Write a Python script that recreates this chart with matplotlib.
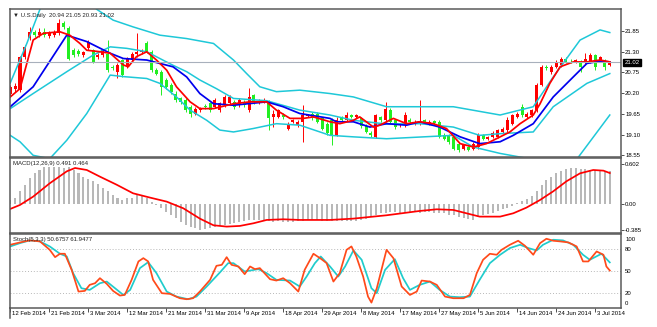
import matplotlib.pyplot as plt
from matplotlib.lines import Line2D
import numpy as np

plt.rcParams["font.family"] = ["Liberation Sans", "DejaVu Sans"]

# ---- data (bar index = trading day) ----
date_labels = ["12 Feb 2014", "21 Feb 2014", "3 Mar 2014", "12 Mar 2014", "21 Mar 2014",
               "31 Mar 2014", "9 Apr 2014", "18 Apr 2014", "29 Apr 2014", "8 May 2014",
               "17 May 2014", "27 May 2014", "5 Jun 2014", "14 Jun 2014", "24 Jun 2014",
               "3 Jul 2014"]
date_bars = [0, 8, 16, 24, 32, 40, 48, 56, 64, 72, 80, 88, 96, 104, 112, 120]

# open, high, low, close
ohlc = [
    (20.17, 20.42, 20.10, 20.36), (20.30, 20.48, 20.22, 20.40), (20.28, 21.20, 20.22, 21.16),
    (21.16, 21.48, 21.10, 21.42), (21.66, 21.96, 21.60, 21.82), (21.83, 21.88, 21.68, 21.74),
    (21.74, 21.92, 21.70, 21.83), (21.83, 21.92, 21.70, 21.74), (21.72, 21.85, 21.66, 21.80),
    (21.75, 21.88, 21.70, 21.82), (21.79, 22.16, 21.75, 22.07), (22.05, 22.12, 21.90, 21.95),
    (21.92, 21.98, 21.08, 21.12), (21.34, 21.40, 21.17, 21.21), (21.32, 21.38, 21.20, 21.25),
    (21.22, 21.32, 21.16, 21.28), (21.39, 21.60, 21.34, 21.56), (21.34, 21.38, 20.99, 21.03),
    (21.17, 21.26, 21.10, 21.21), (21.21, 21.38, 21.17, 21.34), (21.25, 21.61, 20.77, 20.81),
    (20.90, 20.95, 20.82, 20.86), (20.77, 21.00, 20.59, 20.95), (21.08, 21.12, 20.64, 20.68),
    (20.90, 21.16, 20.86, 21.12), (21.08, 21.30, 21.03, 21.25), (21.25, 21.79, 21.17, 21.30),
    (21.28, 21.36, 21.24, 21.31), (21.52, 21.58, 21.26, 21.30), (21.30, 21.34, 20.77, 20.81),
    (20.81, 20.88, 20.68, 20.72), (20.77, 20.82, 20.15, 20.37), (20.55, 20.60, 20.30, 20.37),
    (20.41, 20.46, 20.19, 20.24), (20.19, 20.25, 19.97, 20.01), (20.06, 20.10, 19.92, 19.97),
    (20.01, 20.06, 19.70, 19.75), (19.84, 19.88, 19.57, 19.66), (19.66, 19.84, 19.62, 19.79),
    (19.75, 19.84, 19.70, 19.79), (19.86, 19.92, 19.78, 19.82), (19.93, 19.97, 19.70, 19.75),
    (19.84, 20.06, 19.80, 20.01), (19.75, 19.97, 19.70, 19.93), (19.88, 20.15, 19.84, 20.10),
    (19.93, 20.15, 19.88, 20.10), (19.97, 20.01, 19.79, 19.84), (19.88, 20.06, 19.84, 20.01),
    (19.97, 20.01, 19.84, 19.88), (19.75, 20.35, 19.70, 20.10), (20.15, 20.19, 19.92, 19.97),
    (19.95, 20.04, 19.92, 20.00), (19.97, 20.06, 19.93, 20.01), (19.97, 20.01, 19.21, 19.53),
    (19.57, 19.75, 19.31, 19.66), (19.57, 19.79, 19.53, 19.75), (19.62, 19.68, 19.52, 19.57),
    (19.26, 19.44, 19.22, 19.39), (19.44, 19.52, 19.40, 19.48), (19.35, 19.48, 19.30, 19.44),
    (19.44, 19.88, 18.91, 19.62), (19.60, 19.66, 19.56, 19.62), (19.66, 19.70, 19.49, 19.53),
    (19.66, 19.70, 19.40, 19.44), (19.53, 19.57, 19.22, 19.26), (19.39, 19.44, 19.10, 19.13),
    (19.48, 19.53, 18.82, 19.10), (19.10, 19.57, 19.06, 19.50), (19.55, 19.60, 19.44, 19.48),
    (19.50, 19.70, 19.46, 19.62), (19.62, 19.66, 19.53, 19.57), (19.57, 19.66, 19.53, 19.62),
    (19.53, 19.57, 19.28, 19.33), (19.33, 19.37, 19.13, 19.17), (19.15, 19.20, 19.04, 19.08),
    (19.04, 19.66, 19.00, 19.62), (19.57, 19.60, 19.44, 19.48), (19.48, 19.97, 19.44, 19.79),
    (19.75, 19.80, 19.40, 19.44), (19.48, 19.52, 19.26, 19.30), (19.35, 19.42, 19.30, 19.39),
    (19.35, 19.70, 19.30, 19.62), (19.48, 19.53, 19.40, 19.44), (19.39, 19.48, 19.35, 19.44),
    (19.39, 20.01, 19.35, 19.46), (19.48, 19.52, 19.40, 19.44), (19.39, 19.48, 19.35, 19.44),
    (19.46, 19.50, 19.37, 19.40), (19.44, 19.48, 19.00, 19.04), (19.08, 19.15, 18.95, 18.99),
    (19.08, 19.12, 18.86, 18.91), (19.04, 19.08, 18.68, 18.73), (18.86, 18.90, 18.64, 18.68),
    (18.73, 18.86, 18.70, 18.82), (18.77, 18.80, 18.66, 18.70), (18.73, 18.90, 18.70, 18.86),
    (18.77, 19.13, 18.72, 19.08), (19.08, 19.12, 18.95, 18.99), (18.99, 19.06, 18.96, 19.04),
    (19.04, 19.20, 19.00, 19.13), (19.04, 19.26, 19.00, 19.22), (19.17, 19.30, 19.14, 19.26),
    (19.22, 19.57, 19.18, 19.48), (19.39, 19.66, 19.35, 19.62), (19.57, 19.70, 19.53, 19.66),
    (19.84, 19.90, 19.58, 19.62), (19.57, 19.70, 19.53, 19.66), (19.62, 19.79, 19.58, 19.75),
    (19.75, 20.46, 19.70, 20.41), (20.41, 20.95, 20.38, 20.90), (20.90, 20.95, 20.82, 20.86),
    (20.77, 20.94, 20.72, 20.90), (20.90, 21.08, 20.86, 21.03), (20.94, 21.17, 20.90, 21.12),
    (21.10, 21.15, 21.00, 21.03), (21.08, 21.12, 21.00, 21.07), (21.03, 21.12, 21.00, 21.08),
    (21.03, 21.08, 20.77, 20.90), (20.99, 21.26, 20.95, 21.12), (21.03, 21.26, 20.99, 21.21),
    (21.21, 21.25, 20.81, 20.90), (21.08, 21.20, 21.04, 21.17), (21.08, 21.12, 20.81, 20.90),
    (20.94, 21.05, 20.93, 21.02),
]

ma_fast_x = [0, 2, 4.7, 6.8, 10.2, 12.2, 14.3, 15.7, 18.4, 20.5, 23.2, 24.2, 25.9, 28, 30,
             32.1, 34.1, 36.9, 38.9, 41.7, 45.8, 49.2, 52.6, 54.6, 57.4, 60.1, 62.2, 65.6,
             67.6, 70.4, 71.7, 74.5, 75.8, 78.6, 81.3, 84, 86.8, 89.5, 92.3, 95, 97.7,
             100.5, 102.5, 104.6, 107.3, 108.7, 110.7, 112.8, 115.5, 118.3, 121, 123]
ma_fast = [20.10, 20.32, 21.61, 21.79, 21.83, 21.74, 21.52, 21.34, 21.30, 21.26, 20.95,
           20.90, 21.17, 21.30, 21.08, 20.81, 20.37, 19.97, 19.79, 19.79, 19.92, 19.97,
           19.97, 19.75, 19.53, 19.53, 19.57, 19.44, 19.39, 19.48, 19.57, 19.30, 19.35,
           19.53, 19.39, 19.44, 19.39, 19.26, 18.86, 18.77, 18.86, 19.04, 19.17, 19.39,
           19.62, 19.92, 20.46, 20.90, 21.03, 21.03, 21.08, 21.03]

ma_slow_x = [0, 4.7, 11.6, 15.7, 20.5, 23.2, 28, 30.7, 33.4, 36.2, 38.9, 41.7, 45.8, 52.6,
             56, 59.4, 65.6, 66.9, 70.4, 73.8, 77.2, 81.3, 84, 88.1, 92.3, 96.3, 100.5,
             103.2, 107.3, 111.4, 115.5, 118.3, 121, 123]
ma_slow = [19.84, 20.37, 21.74, 21.57, 21.26, 21.12, 21.08, 20.99, 20.90, 20.63, 20.19,
           19.92, 19.88, 19.97, 19.84, 19.66, 19.53, 19.44, 19.44, 19.30, 19.39, 19.35,
           19.44, 19.30, 19.04, 18.86, 18.91, 19.08, 19.39, 20.10, 20.63, 20.99, 21.05,
           21.03]

bb_up_x = [0, 3.4, 6.1, 9, 12, 15, 17.7, 21.1, 25.2, 30.7, 36.2, 41.7, 45.8, 48.5, 51.2,
           54.6, 59.4, 65.6, 70.4, 77.2, 90.9, 100.5, 107.3, 111.4, 116.9, 121, 123]
bb_up = [20.47, 21.52, 22.43, 22.85, 22.95, 22.80, 22.43, 22.14, 21.96, 21.74, 21.65,
         21.52, 21.08, 20.72, 20.37, 20.24, 20.28, 20.19, 20.10, 19.84, 19.84, 19.62,
         19.84, 20.63, 21.61, 21.88, 21.81]
bb_mid_x = [0, 4.7, 11.6, 17, 20.5, 23.9, 28, 30.7, 33.4, 36.2, 38.9, 42.3, 45.8, 52.6,
            59.4, 65.6, 70.4, 77.2, 84, 90.9, 96.3, 101.1, 107.3, 111.4, 118.3, 123]
bb_mid = [19.79, 20.19, 20.77, 21.21, 21.43, 21.39, 21.30, 21.12, 20.94, 20.77, 20.55,
          20.32, 20.06, 20.00, 19.75, 19.62, 19.48, 19.38, 19.39, 19.30, 19.08, 19.13,
          19.17, 19.84, 20.46, 20.72]
bb_low_x = [0, 2, 4.7, 8.1, 11.6, 15.7, 20.5, 23.2, 28, 30.7, 34.1, 36.9, 40.3, 43, 45.8,
            49.8, 54.6, 59.4, 65.6, 70.4, 77.2, 90.9, 95, 100.5, 107.3, 116.2, 123]
bb_low = [19.08, 18.91, 18.55, 18.46, 18.95, 19.66, 20.68, 20.64, 20.59, 20.46, 20.10,
          19.75, 19.48, 19.22, 19.17, 19.26, 19.39, 19.35, 19.08, 19.04, 18.99, 19.08,
          18.77, 18.60, 18.44, 18.44, 19.62]

macd_main = [0.06, 0.085, 0.19, 0.29, 0.39, 0.46, 0.51, 0.55, 0.56, 0.56,
             0.55, 0.54, 0.55, 0.51, 0.46, 0.41, 0.38, 0.34, 0.30, 0.24,
             0.19, 0.14, 0.085, 0.06, 0.085, 0.095, 0.13, 0.13, 0.085, 0.035,
             -0.015, -0.065, -0.115, -0.165, -0.215, -0.265, -0.315, -0.34, -0.365, -0.385,
             -0.375, -0.355, -0.34, -0.325, -0.315, -0.305, -0.29, -0.265, -0.255, -0.24,
             -0.24, -0.24, -0.24, -0.255, -0.265, -0.255, -0.265, -0.265, -0.265, -0.255,
             -0.255, -0.24, -0.24, -0.24,
             -0.25, -0.25, -0.26, -0.25, -0.25, -0.26, -0.25, -0.25, -0.24,
             -0.22, -0.19, -0.16, -0.14,
             -0.13, -0.12, -0.12, -0.13, -0.13, -0.12, -0.12, -0.13, -0.12, -0.12, -0.13, -0.13,
             -0.14, -0.16, -0.17, -0.19, -0.21, -0.23, -0.24,
             -0.20, -0.17, -0.15, -0.13, -0.11, -0.08, -0.06, -0.03, 0.01, 0.04, 0.08, 0.12,
             0.20, 0.29, 0.36, 0.41, 0.46, 0.50, 0.53, 0.54, 0.54, 0.53, 0.52, 0.51, 0.51,
             0.51, 0.50, 0.491]

signal_x = [0, 2, 4.7, 8.1, 11.6, 13.3, 15.7, 18.4, 21.8, 25.2, 28.7, 32.1, 35.5, 38.9,
            41.7, 44.4, 47.1, 49.9, 52.6, 56, 59.4, 65.6, 70.4, 77.2, 84, 87.5, 90.9, 93.6,
            96.3, 100.5, 103.2, 105.9, 108.7, 111.4, 114.1, 116.9, 119.6, 121.7, 123]
macd_signal = [-0.075, -0.015, 0.11, 0.31, 0.49, 0.54, 0.51, 0.41, 0.29, 0.16, 0.095, 0.035,
               -0.065, -0.22, -0.32, -0.34, -0.33, -0.29, -0.24, -0.23, -0.24, -0.24, -0.22,
               -0.17, -0.105, -0.08, -0.09, -0.14, -0.19, -0.19, -0.14, -0.055, 0.06, 0.19,
               0.34, 0.46, 0.51, 0.50, 0.464]

stoch_k_x = [0, 2, 4, 6.1, 8.1, 9.2, 10.2, 11.2, 12.6, 14, 15.3, 16.3, 17.4, 18.4, 19.8,
             21.1, 22.5, 23.5, 24.9, 26.3, 27.3, 28.3, 29.3, 31.1, 32.8, 34.8, 36.2, 37.5,
             38.9, 41, 42.3, 43.4, 44.4, 45.4, 46.8, 48.1, 49.2, 50.2, 51.2, 53.3, 54.6, 56,
             57.4, 59.1, 60.4, 62.2, 63.7, 64.9, 66.3, 67.6, 69, 70, 71, 72.4, 73.4, 74.1,
             75.2, 77.2, 78.6, 80.3, 82, 83.4, 84.4, 86.1, 87.5, 89.2, 90.9, 93, 94.3, 95.7,
             97, 98.4, 99.8, 100.8, 102.5, 104.2, 105.6, 107.3, 108.7, 110, 111.4, 112.8,
             114.5, 116.2, 117.5, 118.6, 120.3, 121.7, 122.3, 123]
stoch_k = [86.5, 89.8, 92.6, 91.2, 79.5, 69.3, 74.0, 74.0, 51.6, 21.4, 22.3, 30.7, 33.0,
           40.0, 32.1, 22.3, 15.8, 16.7, 37.7, 63.3, 67.9, 63.3, 37.7, 19.1, 18.1, 12.1,
           10.7, 12.1, 21.4, 37.7, 57.2, 58.6, 69.3, 58.6, 56.3, 45.6, 56.3, 52.6, 54.0,
           38.6, 36.7, 40.0, 33.0, 21.4, 51.6, 74.0, 67.2, 61.0, 35.3, 47.0, 79.5, 84.2,
           70.2, 42.3, 14.4, 6.0, 26.0, 79.5, 67.9, 28.4, 16.7, 21.4, 36.7, 35.3, 30.7,
           14.4, 12.1, 12.1, 16.7, 47.0, 65.6, 74.0, 72.6, 79.5, 86.5, 92.1, 85.1, 72.6,
           88.8, 94.9, 92.1, 91.2, 89.8, 84.2, 63.3, 63.3, 77.2, 72.6, 56.3, 50.68]
stoch_d_x = [0, 2, 4, 6.1, 8.1, 10.2, 11.6, 12.9, 14.6, 16.3, 18.4, 19.8, 21.5, 23.2, 24.6,
             26.6, 28.3, 30, 32.1, 34.1, 36.5, 38.2, 40.3, 43, 44.7, 45.8, 48.1, 50.9, 52.6,
             54.6, 57.4, 59.4, 60.8, 62.5, 63.7, 65.6, 67.3, 68.7, 70.4, 72.1, 74.1, 75.2,
             76.9, 78.9, 80.6, 82, 84, 86.1, 88.1, 90.2, 92.2, 94.3, 96.3, 98.4, 100.5,
             102.5, 104.6, 106.3, 108, 109.3, 111.4, 113.4, 115.5, 117.5, 118.9, 121.3, 123]
stoch_d = [84.2, 88.8, 92.6, 91.2, 84.2, 74.0, 70.2, 47.0, 26.0, 23.7, 33.0, 35.3, 26.0,
           16.7, 23.7, 54.0, 62.3, 47.0, 21.4, 14.4, 10.7, 14.4, 28.4, 47.9, 60.9, 60.9,
           49.3, 52.6, 47.0, 37.7, 36.7, 28.4, 42.3, 60.9, 70.2, 56.3, 42.3, 56.3, 78.6,
           65.6, 26.0, 19.1, 51.6, 66.5, 40.0, 23.7, 30.7, 35.3, 23.7, 14.4, 13.5, 14.4,
           37.7, 60.9, 72.6, 81.9, 86.5, 81.9, 78.6, 86.5, 93.5, 92.6, 86.5, 72.6, 65.6,
           74.0, 61.95]

# ---- figure ----
W, H = 657, 327
fig = plt.figure(figsize=(W / 100, H / 100), dpi=100)
x0, x1 = 10, 621
ax1 = fig.add_axes([x0 / W, 1 - 157 / H, (x1 - x0) / W, 148 / H])
ax2 = fig.add_axes([x0 / W, 1 - 233 / H, (x1 - x0) / W, 75 / H])
ax3 = fig.add_axes([x0 / W, 1 - 308 / H, (x1 - x0) / W, 74 / H])

fs = 4.3
for ax in (ax1, ax2, ax3):
    ax.set_xlim(-0.05, 125.3)
    ax.set_xticks([])
    ax.yaxis.tick_right()
    ax.tick_params(axis="y", length=2, width=0.6, pad=1, labelsize=fs, color="#333333")
    for s in ax.spines.values():
        s.set_color("#5a5a5a")
        s.set_linewidth(1.1)

# candles
up_col, dn_col = "#ff0000", "#22ee22"
for i, (o, h, l, c) in enumerate(ohlc):
    col = up_col if c >= o else dn_col
    ax1.vlines(i, l, h, color=col, lw=0.7)
    ax1.bar(i, max(abs(c - o), 0.015), bottom=min(o, c), width=0.62, color=col, lw=0)

band_col = "#1ec8d8"
ax1.plot(bb_up_x, bb_up, color=band_col, lw=1.1)
ax1.plot(bb_mid_x, bb_mid, color=band_col, lw=1.1)
ax1.plot(bb_low_x, bb_low, color=band_col, lw=1.1)
ax1.plot(ma_slow_x, ma_slow, color="#0000ee", lw=1.25)
ax1.plot(ma_fast_x, ma_fast, color="#ff0000", lw=1.25)
last = ohlc[-1]
ax1.axhline(last[3], color="#a8b0bc", lw=0.8)
ax1.set_ylim(18.505, 22.435)
ax1.set_yticks([21.85, 21.30, 20.75, 20.20, 19.65, 19.10, 18.55])
ax1.set_yticklabels(["21.85", "21.30", "20.75", "20.20", "19.65", "19.10", "18.55"])
ax1.text(0.005, 0.975, "\u25bc U.S.Daily  %.2f %.2f %.2f %.2f" % last,
         transform=ax1.transAxes, fontsize=fs, va="top", ha="left", color="#222222")
ax1.text(1.006, last[3], "%.2f" % last[3], transform=ax1.get_yaxis_transform(),
         fontsize=fs, va="center", ha="left", color="white",
         bbox=dict(boxstyle="square,pad=0.2", fc="black", ec="black"))

# MACD
ax2.bar(np.arange(len(macd_main)), macd_main, width=0.42, color="#b8b8b8", lw=0)
ax2.plot(signal_x, macd_signal, color="#ff0000", lw=1.25)
ax2.set_ylim(-0.436, 0.69)
ax2.set_yticks([0.602, 0.0, -0.385])
ax2.set_yticklabels(["0.602", "0.00", "-0.385"])
ax2.text(0.005, 0.96, "MACD(12,26,9) 0.491 0.464", transform=ax2.transAxes,
         fontsize=fs, va="top", ha="left", color="#222222")

# Stochastic
for lv in (80, 50, 20):
    ax3.axhline(lv, color="#b8b8b8", lw=0.7, ls=(0, (1, 2)))
ax3.plot(stoch_d_x, stoch_d, color="#20cccc", lw=1.25)
ax3.plot(stoch_k_x, stoch_k, color="#ff4a1a", lw=1.25)
ax3.set_ylim(-1.5, 101.5)
ax3.set_yticks([94, 80, 50, 20, 6])
ax3.set_yticklabels(["100", "80", "50", "20", "0"])
ax3.tick_params(axis="y", length=0, pad=3)
ax3.text(0.005, 0.96, "Stoch(5,3,3) 50.6757 61.9477", transform=ax3.transAxes,
         fontsize=fs, va="top", ha="left", color="#222222")

# dates
for b, lab in zip(date_bars, date_labels):
    ax3.annotate(lab, xy=(b, 0), xycoords=("data", "axes fraction"),
                 xytext=(1.2, -2.2), textcoords="offset points", fontsize=fs,
                 va="top", ha="left", annotation_clip=False)
    ax3.vlines(b, -0.06, 0, transform=ax3.get_xaxis_transform(), color="#333333",
               lw=0.6, clip_on=False)
fig.add_artist(Line2D([x0 / W, x0 / W], [1 - 318 / H, 1 - 308 / H], color="#5a5a5a", lw=1.1))

fig.savefig("out.png", dpi=100)
